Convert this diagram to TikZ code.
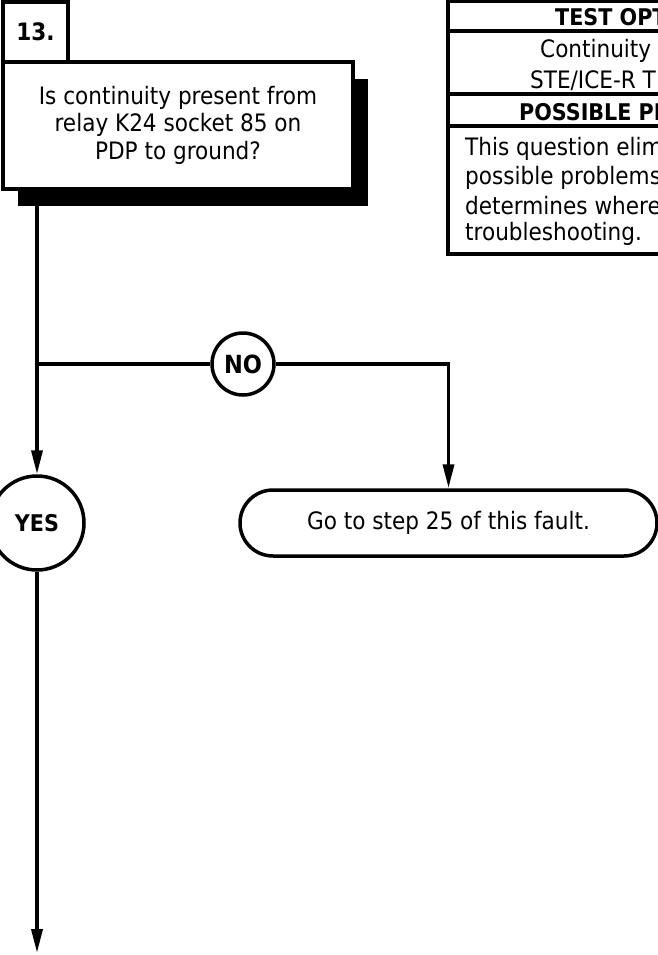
\documentclass[tikz,border=0pt]{standalone}
\usepackage{fontspec}
\setmainfont{DejaVu Sans Condensed}
\usetikzlibrary{arrows.meta, positioning, shapes.misc, shadows}

\begin{document}
\begin{tikzpicture}[
  x=1pt, y=-1pt,
  >={Triangle[length=24pt, width=11pt]},
  box/.style={rectangle, draw=black, line width=3.5pt, fill=white, inner sep=0pt, align=center, font=\fontsize{24}{27.5}\selectfont},
  answer/.style={circle, draw=black, line width=3.5pt, fill=white, inner sep=0pt, font=\fontsize{23}{26}\selectfont\bfseries},
  goto/.style={rounded rectangle, draw=black, line width=3.5pt, fill=white, inner sep=0pt, font=\fontsize{24}{27.5}\selectfont},
  cell/.style={anchor=west, inner sep=0pt, font=\fontsize{24}{28}\selectfont},
  tablerule/.style={line width=4pt},
  flow/.style={line width=3.5pt},
  arrowflow/.style={->, line width=3.5pt}
]
  \clip (0,0) rectangle (658,955);

  % Step number and question
  \node[box, minimum width=350pt, minimum height=127pt, text depth=6pt,
        drop shadow={shadow xshift=15pt, shadow yshift=-17pt, fill=black, opacity=1}]
        (q) at (178,125.5) {Is continuity present from\\relay K24 socket 85 on\\PDP to ground?};
  \node[box, minimum width=65pt, minimum height=60pt] (num) at (35.5,32) {\bfseries 13.};

  % Side table
  \draw[tablerule] (448,1) rectangle (720,253.5);
  \foreach \y in {31.5, 94.5, 126}
    \draw[tablerule] (448,\y) -- (720,\y);
  \node[cell, font=\fontsize{23}{28}\selectfont\bfseries] (opt) at (555,17) {TEST OPT};
  \node[cell] (cont) at (540,51) {Continuity};
  \node[cell] (ste) at (530,81) {STE/ICE-R T};
  \node[cell, font=\fontsize{23}{28}\selectfont\bfseries] (prob) at (519,112) {POSSIBLE PR};
  \node[cell] (txt1) at (465,149) {This question elim};
  \node[cell] (txt2) at (465,178) {possible problems};
  \node[cell] (txt3) at (465,206) {determines where};
  \node[cell] (txt4) at (465,234) {troubleshooting.};

  % Answers
  \node[answer, minimum size=62pt, font=\fontsize{25}{28}\selectfont\bfseries] (no) at (243,364) {NO};
  \node[answer, minimum size=94pt] (yes) at (37,523) {YES};
  \node[goto, minimum width=417pt, minimum height=66pt] (step25) at (448.5,523) {Go to step 25 of this fault.};

  % Connectors
  \coordinate (split) at (yes |- no);
  \coordinate (out) at (37,953);
  \draw[arrowflow] (q.south -| yes) -- (yes);
  \draw[flow] (split) -- (no);
  \draw[arrowflow] (no) -| (step25);
  \draw[arrowflow] (yes) -- (out);
\end{tikzpicture}
\end{document}
